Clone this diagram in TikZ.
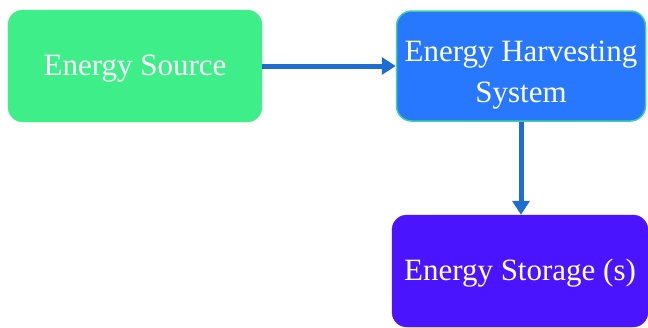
\documentclass[tikz,border=0pt]{standalone}
\usepackage{fontspec}
\setmainfont{Liberation Serif}
\usetikzlibrary{arrows.meta}
\definecolor{srcgreen}{RGB}{62,238,137}
\definecolor{harvblue}{RGB}{40,120,255}
\definecolor{harvedge}{RGB}{60,210,160}
\definecolor{storviolet}{RGB}{74,20,255}
\definecolor{arrowblue}{RGB}{30,110,210}
\newcommand{\lowered}[2]{\raisebox{-#1}[\height][\depth]{#2}}

\begin{document}
\begin{tikzpicture}[x=1pt, y=-1pt,
  block/.style={rounded corners=15pt, inner sep=0pt, text=white,
    font=\fontsize{31}{41}\selectfont},
  flow/.style={draw=arrowblue, line width=5pt,
    -{Triangle[width=17pt,length=14pt]}}]
  \useasboundingbox (0,0) rectangle (648,327);

  \node[block, fill=srcgreen, draw=srcgreen, minimum width=254pt, minimum height=112pt]
    (src) at (135,66) {\lowered{3pt}{Energy Source}};
  \node[block, fill=harvblue, draw=harvedge, line width=1.5pt, minimum width=249pt, minimum height=110pt]
    (harv) at (521,66) {\lowered{8pt}{\begin{tabular}{@{}c@{}}Energy Harvesting\\System\end{tabular}}};
  \node[block, fill=storviolet, draw=storviolet, minimum width=256pt, minimum height=112pt]
    (stor) at (520,271) {\lowered{2pt}{Energy Storage (s)}};

  \draw[flow] (src.east) -- (harv.west);
  \draw[flow] (harv.south) -- (harv.south |- stor.north);
\end{tikzpicture}
\end{document}
